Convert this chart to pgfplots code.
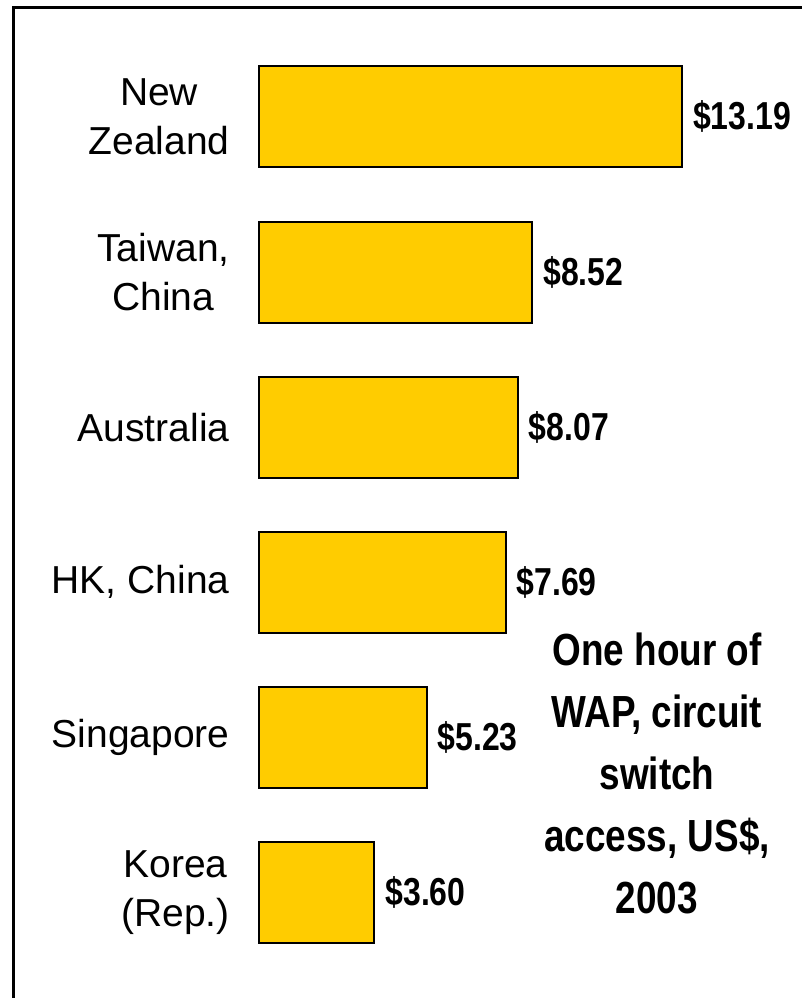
\documentclass[border=0pt]{standalone}
\usepackage{fontspec}
\setmainfont{Liberation Sans}
\newfontfamily\narrowbold[FakeStretch=0.82]{Liberation Sans Bold}
\usepackage{pgfplots}
\pgfplotsset{compat=1.18}
\definecolor{baryellow}{HTML}{FFCC00}
\pgfplotsset{/pgf/number format/assume math mode=true}

\begin{document}
\begin{tikzpicture}
\useasboundingbox (0pt,0pt) rectangle (802pt,998pt);
% frame, cut off at right and bottom
\draw[line width=3pt] (13pt,-5pt) -- (13pt,990.5pt) -- (810pt,990.5pt);
\begin{axis}[
  at={(259pt,28pt)}, anchor=south west,
  scale only axis, width=423pt, height=930.6pt,
  xbar, bar width=101pt,
  xmin=0, xmax=13.19, ymin=-0.5, ymax=5.5,
  y dir=reverse, clip=false,
  axis line style={draw=none}, tick style={draw=none},
  xtick=\empty,
  ytick={0,1,2,3,4,5},
  yticklabels={New\\Zealand, {Taiwan,\\China}, Australia, {HK, China}, Singapore, Korea\\(Rep.)},
  yticklabel style={align=center, anchor=east, inner sep=0pt, xshift=-25pt,
    font=\fontsize{39}{49}\selectfont},
  nodes near coords={\$\pgfmathprintnumber[fixed,fixed zerofill,precision=2]{\pgfplotspointmeta}},
  nodes near coords style={anchor=west, inner sep=0pt, xshift=10pt,
    font=\narrowbold\fontsize{39}{44}\selectfont},
]
\addplot[fill=baryellow, draw=black, line width=2pt] coordinates {
  (13.19,0) (8.52,1) (8.07,2) (7.69,3) (5.23,4) (3.60,5)};
\end{axis}
\node[anchor=north, align=center, inner sep=0pt, font=\narrowbold\fontsize{45}{62}\selectfont]
  at (657pt,365pt) {One hour of\\WAP, circuit\\switch\\access, US\$,\\2003};
\end{tikzpicture}
\end{document}
